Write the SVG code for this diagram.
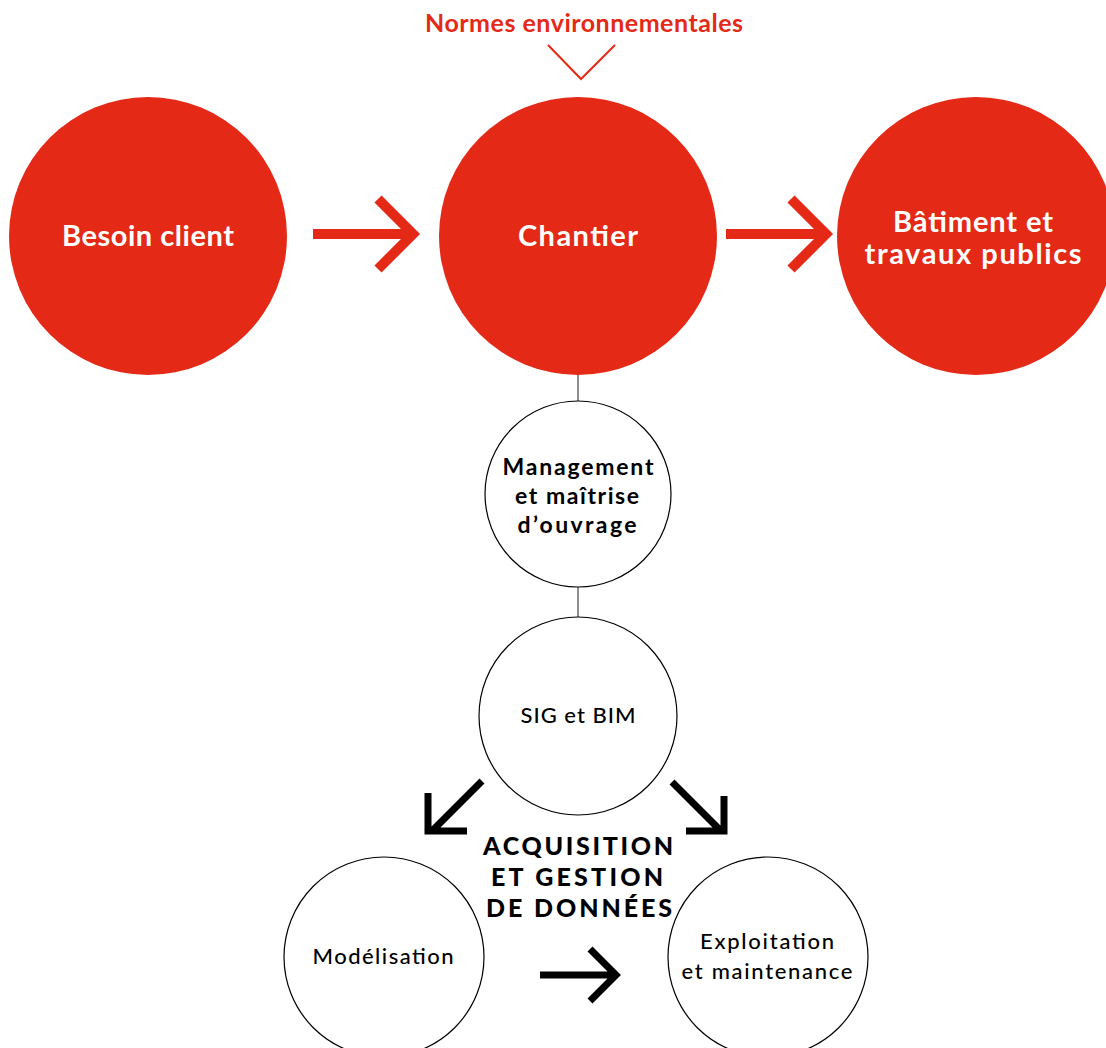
<svg xmlns="http://www.w3.org/2000/svg" width="1106" height="1048" viewBox="0 0 1106 1048">
<style>
.red{fill:#E42916}
.wc{fill:#fff;stroke:#000;stroke-width:1.2}
text{font-family:Lato,"Open Sans",sans-serif;text-anchor:middle}
.tw{fill:#fff;font-weight:700;font-size:29px}
.tm{fill:#000;font-weight:700;font-size:23px}
.tr{fill:#000;font-weight:500;font-size:22px}
.tx{fill:#000;font-weight:900;font-size:25px}
.ra{fill:none;stroke:#E42916;stroke-width:10}
.ba{fill:none;stroke:#000;stroke-width:7}
.ln{stroke:#444;stroke-width:1.2}
</style>
<rect width="1106" height="1048" fill="#fff"/>
<g id="connectors">
<line class="ln" x1="578" y1="372" x2="578" y2="402"/>
<line class="ln" x1="578" y1="587" x2="578" y2="618"/>
<polyline points="548,45 581,79 615,45" fill="none" stroke="#E42916" stroke-width="2"/>
<path class="ra" d="M313,234H410M378,199L413,234L378,269"/>
<path class="ra" d="M726,234H824M791,199L826,234L791,269"/>
<path class="ba" d="M482,781L432,831M428,793V831H467"/>
<path class="ba" d="M672,782L722,832M724,796V831H686"/>
<path class="ba" d="M540,975H612M590,949L616,975L590,1001"/>
</g>
<g id="normes"><text x="584" y="32" font-weight="700" font-size="25" fill="#E42916" textLength="318" lengthAdjust="spacing">Normes environnementales</text></g>
<g id="besoin"><circle class="red" cx="148" cy="236" r="139"/><text class="tw" x="148" y="246" textLength="172" lengthAdjust="spacing">Besoin client</text></g>
<g id="chantier"><circle class="red" cx="578" cy="236" r="139"/><text class="tw" x="578" y="246" textLength="120" lengthAdjust="spacing">Chantier</text></g>
<g id="batiment"><circle class="red" cx="976" cy="236" r="139"/><text class="tw" x="973" y="232" textLength="160" lengthAdjust="spacing">Bâtiment et</text><text class="tw" x="973" y="264" textLength="217" lengthAdjust="spacing">travaux publics</text></g>
<g id="management"><circle class="wc" cx="578" cy="494" r="93"/><text class="tm" x="578" y="475" textLength="151" lengthAdjust="spacing">Management</text><text class="tm" x="577" y="504" textLength="124" lengthAdjust="spacing">et maîtrise</text><text class="tm" x="577" y="533" textLength="119" lengthAdjust="spacing">d’ouvrage</text></g>
<g id="sig"><circle class="wc" cx="578" cy="716" r="99"/><text class="tr" x="578" y="723" textLength="115" lengthAdjust="spacing">SIG et BIM</text></g>
<g id="acquisition"><text class="tx" x="578" y="855" textLength="190" lengthAdjust="spacing">ACQUISITION</text><text class="tx" x="577" y="886" textLength="172" lengthAdjust="spacing">ET GESTION</text><text class="tx" x="579" y="917" textLength="186" lengthAdjust="spacing">DE DONNÉES</text></g>
<g id="modelisation"><circle class="wc" cx="384" cy="957" r="100"/><text class="tr" x="383" y="964" textLength="141" lengthAdjust="spacing">Modélisation</text></g>
<g id="exploitation"><circle class="wc" cx="768" cy="957" r="100"/><text class="tr" x="767" y="949" textLength="134" lengthAdjust="spacing">Exploitation</text><text class="tr" x="767" y="979" textLength="171" lengthAdjust="spacing">et maintenance</text></g>
</svg>
